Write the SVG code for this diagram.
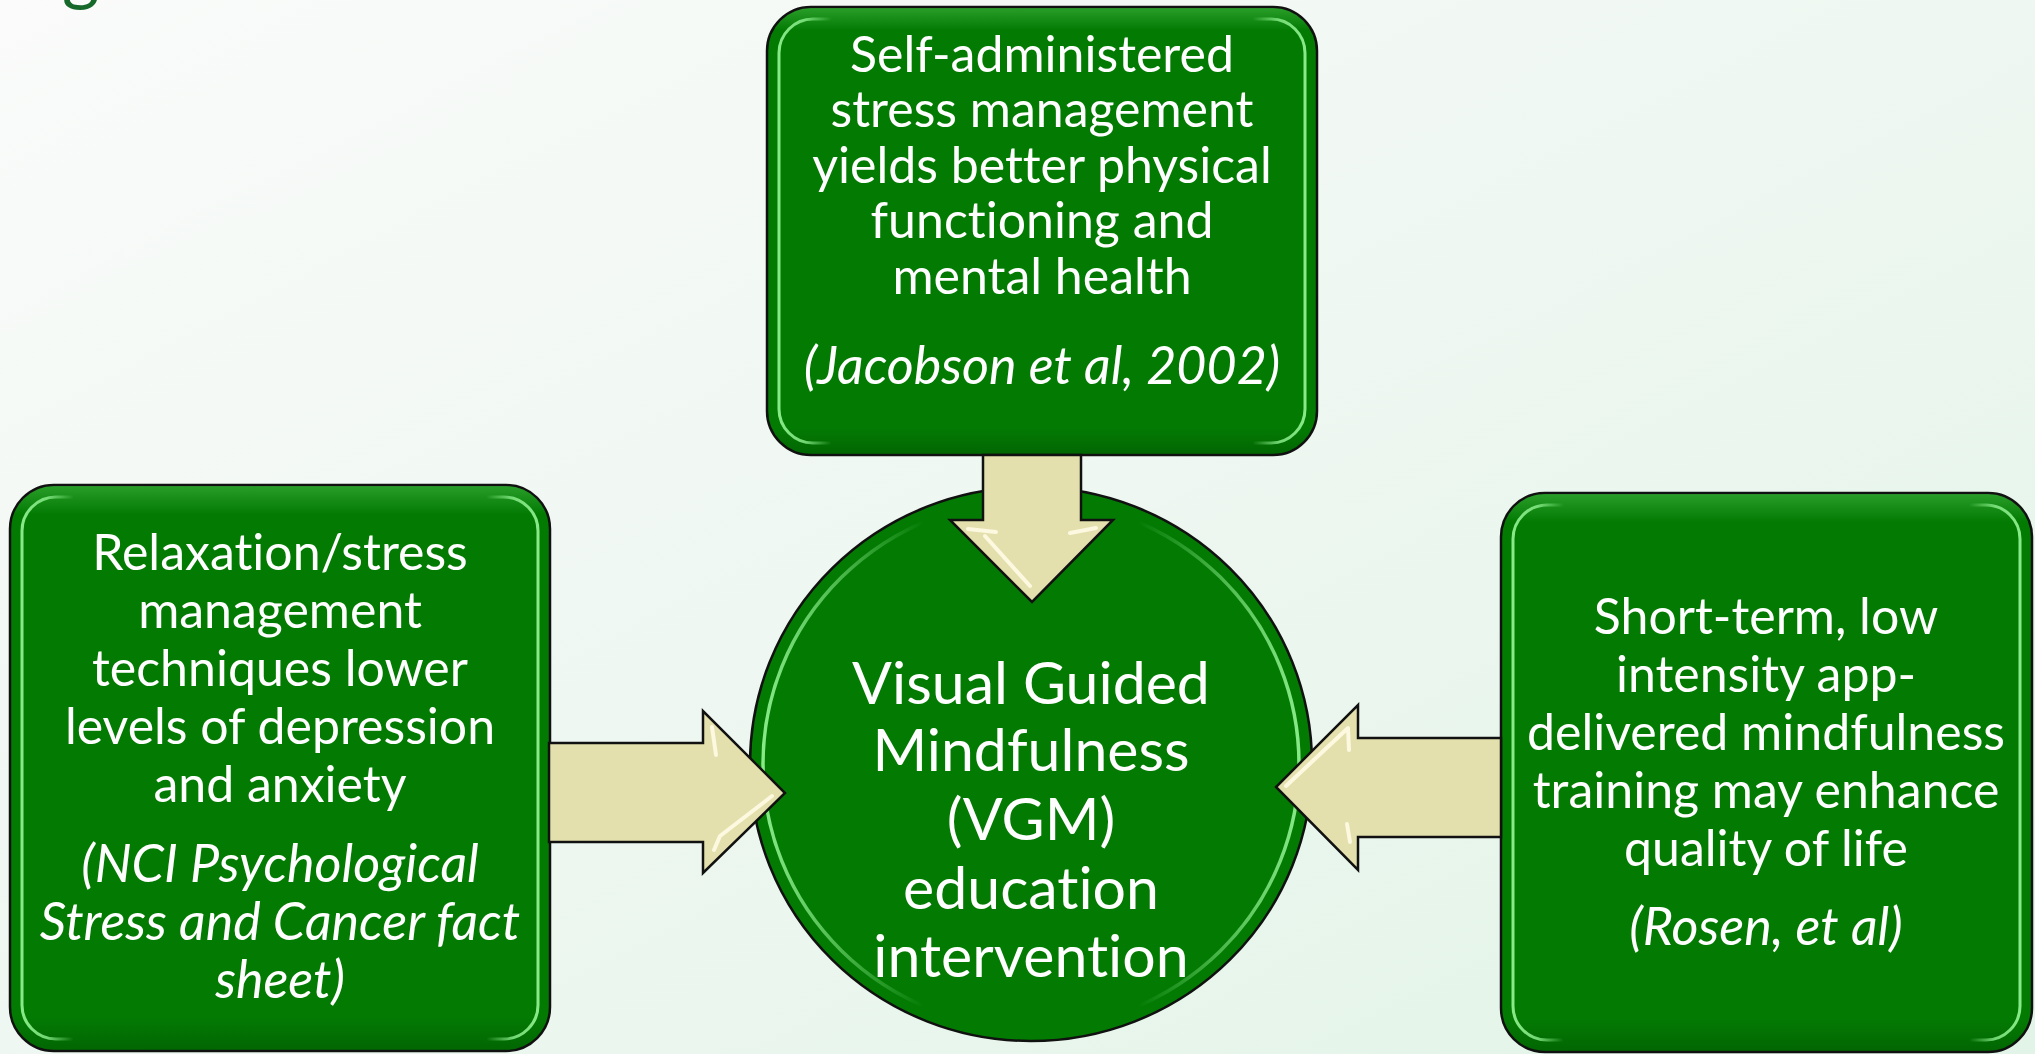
<svg xmlns="http://www.w3.org/2000/svg" width="2035" height="1054" viewBox="0 0 2035 1054">
  <defs>
    <linearGradient id="bg" x1="0" y1="0" x2="1" y2="1">
      <stop offset="0" stop-color="#fafbfa"/>
      <stop offset="0.5" stop-color="#eef7f1"/>
      <stop offset="1" stop-color="#e2f4e7"/>
    </linearGradient>
    <linearGradient id="rim" x1="0" y1="0" x2="1" y2="0">
      <stop offset="0" stop-color="#8ef08e" stop-opacity="0.95"/>
      <stop offset="0.05" stop-color="#8ef08e" stop-opacity="0.8"/>
      <stop offset="0.1" stop-color="#8ef08e" stop-opacity="0"/>
      <stop offset="0.9" stop-color="#8ef08e" stop-opacity="0"/>
      <stop offset="0.95" stop-color="#8ef08e" stop-opacity="0.8"/>
      <stop offset="1" stop-color="#8ef08e" stop-opacity="0.95"/>
    </linearGradient>
    <linearGradient id="rimC" x1="0" y1="0" x2="1" y2="0">
      <stop offset="0" stop-color="#8ef08e" stop-opacity="0.95"/>
      <stop offset="0.12" stop-color="#8ef08e" stop-opacity="0.6"/>
      <stop offset="0.3" stop-color="#8ef08e" stop-opacity="0"/>
      <stop offset="0.7" stop-color="#8ef08e" stop-opacity="0"/>
      <stop offset="0.88" stop-color="#8ef08e" stop-opacity="0.6"/>
      <stop offset="1" stop-color="#8ef08e" stop-opacity="0.95"/>
    </linearGradient>
    <linearGradient id="topShade" x1="0" y1="0" x2="0" y2="1">
      <stop offset="0" stop-color="#4fc04f" stop-opacity="0.5"/>
      <stop offset="0.05" stop-color="#4fc04f" stop-opacity="0"/>
      <stop offset="0.94" stop-color="#004000" stop-opacity="0"/>
      <stop offset="1" stop-color="#004000" stop-opacity="0.35"/>
    </linearGradient>
  </defs>
  <style>
    .box { fill: #037b03; stroke: #111; stroke-width: 2.5; }
    .shade { fill: url(#topShade); stroke: none; }
    .rim { fill: none; stroke: url(#rim); stroke-width: 3; }
    .rimc { fill: none; stroke: url(#rimC); stroke-width: 3.5; }
    .arrow { fill: #e3e0ad; stroke: #111; stroke-width: 2.5; stroke-linejoin: miter; }
    .hl { fill: none; stroke: #fffbe6; stroke-width: 4; stroke-linecap: round; stroke-linejoin: round; opacity: 0.9; }
    .t, .c { font-family: Lato, "Open Sans", "Liberation Sans", sans-serif; fill: #ffffff; text-anchor: middle; font-variant-ligatures: none; font-feature-settings: "liga" 0, "clig" 0; }
    .t { font-size: 50px; }
    .c { font-size: 59px; }
    .it { font-style: italic; font-size: 52px; }
    .title { font-family: Lato, "Liberation Sans", sans-serif; fill: #17692b; font-size: 72px; }
  </style>

  <rect x="0" y="0" width="2035" height="1054" fill="url(#bg)"/>
  <text class="title" x="62" y="-3">g</text>

  <g id="center">
    <ellipse class="box" cx="1031" cy="764" rx="281" ry="277"/>
    <ellipse class="rimc" cx="1031" cy="764" rx="268" ry="264"/>
    <text class="c" x="1031" y="704">Visual Guided</text>
    <text class="c" x="1031" y="771">Mindfulness</text>
    <text class="c" x="1031" y="840">(VGM)</text>
    <text class="c" x="1031" y="909">education</text>
    <text class="c" x="1031" y="977">intervention</text>
  </g>

  <g id="top-box">
    <rect class="box" x="767" y="7" width="550" height="448" rx="44" ry="44"/>
    <rect class="shade" x="768" y="8" width="548" height="446" rx="43" ry="43"/>
    <rect class="rim" x="779" y="19" width="526" height="424" rx="34" ry="34"/>
    <text class="t" x="1042" y="72">Self-administered</text>
    <text class="t" x="1042" y="127">stress management</text>
    <text class="t" x="1042" y="183">yields better physical</text>
    <text class="t" x="1042" y="238">functioning and</text>
    <text class="t" x="1042" y="294">mental health</text>
    <text class="t it" x="1042" y="384">(Jacobson et al, 2002)</text>
  </g>

  <g id="left-box">
    <rect class="box" x="10" y="485" width="540" height="566" rx="44" ry="44"/>
    <rect class="shade" x="11" y="486" width="538" height="564" rx="43" ry="43"/>
    <rect class="rim" x="22" y="497" width="516" height="542" rx="34" ry="34"/>
    <text class="t" x="280" y="570">Relaxation/stress</text>
    <text class="t" x="280" y="628">management</text>
    <text class="t" x="280" y="686">techniques lower</text>
    <text class="t" x="280" y="744">levels of depression</text>
    <text class="t" x="280" y="802">and anxiety</text>
    <text class="t it" x="280" y="882">(NCI Psychological</text>
    <text class="t it" x="280" y="940">Stress and Cancer fact</text>
    <text class="t it" x="280" y="998">sheet)</text>
  </g>

  <g id="right-box">
    <rect class="box" x="1501" y="493" width="531" height="559" rx="44" ry="44"/>
    <rect class="shade" x="1502" y="494" width="529" height="557" rx="43" ry="43"/>
    <rect class="rim" x="1513" y="505" width="507" height="535" rx="34" ry="34"/>
    <text class="t" x="1766" y="634">Short-term, low</text>
    <text class="t" x="1766" y="692">intensity app-</text>
    <text class="t" x="1766" y="750">delivered mindfulness</text>
    <text class="t" x="1766" y="808">training may enhance</text>
    <text class="t" x="1766" y="866">quality of life</text>
    <text class="t it" x="1766" y="945">(Rosen, et al)</text>
  </g>

  <g id="connectors">
    <g id="arrow-top">
      <path class="arrow" d="M983,455 L1081,455 L1081,520 L1113,520 L1032,602 L950,520 L983,520 Z"/>
      <polyline class="hl" points="968,529 996,532"/>
      <polyline class="hl" points="985,536 1030,586"/>
      <polyline class="hl" points="1070,533 1096,528"/>
    </g>
    <g id="arrow-left">
      <path class="arrow" d="M549,743 L703,743 L703,711 L785,793 L703,873 L703,842 L549,842 Z"/>
      <polyline class="hl" points="712,727 716,755"/>
      <polyline class="hl" points="772,796 720,836 714,850"/>
    </g>
    <g id="arrow-right">
      <path class="arrow" d="M1501,738 L1358,738 L1358,705 L1276,787 L1358,870 L1358,837 L1501,837 Z"/>
      <polyline class="hl" points="1286,786 1348,728 1349,750"/>
      <polyline class="hl" points="1347,824 1350,842"/>
    </g>
  </g>
</svg>
